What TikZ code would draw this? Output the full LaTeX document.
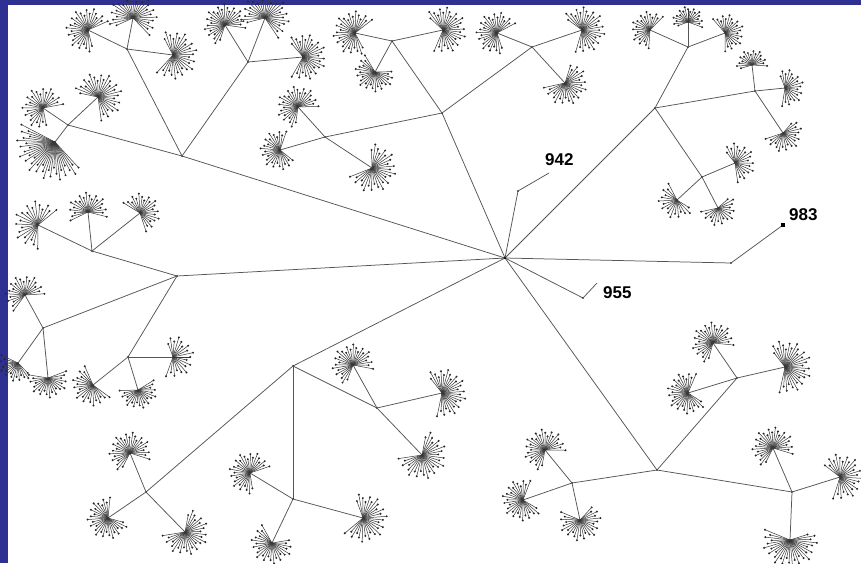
\documentclass[tikz,border=0pt]{standalone}
\usepackage{fontspec}
\setmainfont{Liberation Sans}
\usetikzlibrary{calc}
\definecolor{frameblue}{RGB}{46,49,146}
\definecolor{edgegray}{RGB}{85,85,85}
\definecolor{leafgray}{RGB}{55,55,55}
\tikzset{
  edge/.style={draw=edgegray, line width=0.75pt},
  leaf/.style={draw=leafgray, line width=0.5pt},
  leafdot/.style={fill=black!85},
  lbl/.style={font=\bfseries\fontsize{17}{17}\selectfont, inner sep=0pt, anchor=west},
}
% parent, name, position, number of leaves, spread (deg), radius
\newcommand\fanat[6]{%
  \coordinate (#2) at (#3);
  \draw[edge] (#1) -- (#2);
  \pgfmathanglebetweenpoints{\pgfpointanchor{#1}{center}}{\pgfpointanchor{#2}{center}}%
  \let\fanang\pgfmathresult
  \pgfmathsetmacro\fspread{#5+50}%
  \pgfmathtruncatemacro\fnum{#4+5}%
  \pgfmathsetmacro\fstep{\fspread/(\fnum-1)}%
  \pgfmathtruncatemacro\flast{\fnum-1}%
  \foreach \i in {0,...,\flast}{%
    \pgfmathsetmacro\fa{\fanang-\fspread/2+\i*\fstep}%
    \pgfmathsetmacro\fr{1.08*#6*(1-0.08*mod(\i*3,5))}%
    \draw[leaf] (#2) -- ++(\fa:\fr pt);
    \fill[leafdot] (#2) ++(\fa:\fr pt) circle (1.1pt);
  }%
}
% parent, name, position
\newcommand\hubat[3]{%
  \coordinate (#2) at (#3);
  \draw[edge] (#1) -- (#2);
  \fill[black] (#2) circle (0.9pt);
}
\begin{document}
\begin{tikzpicture}[x=1pt,y=-1pt]
\useasboundingbox (0,0) rectangle (861,563);
\fill[frameblue] (0,0) rectangle (861,563);
\fill[white] (8,5) rectangle (861,563);

\coordinate (C) at (505,258);

% ---- upper left main branch
\hubat{C}{A1}{182,156}
\hubat{A1}{a1}{127,49}
\fanat{a1}{a1f1}{88,30}{22}{210}{20}
\fanat{a1}{a1f2}{133,18}{22}{200}{22}
\fanat{a1}{a1f3}{173,55}{22}{200}{22}
\hubat{A1}{a2}{248,62}
\fanat{a2}{a2f1}{225,25}{22}{210}{19}
\fanat{a2}{a2f2}{265,18}{22}{200}{22}
\fanat{a2}{a2f3}{303,57}{22}{200}{21}

% ---- far upper left (child of A1)
\hubat{A1}{H}{68,125}
\fanat{H}{hf1}{43,108}{20}{220}{19}
\fanat{H}{hf2}{98,97}{22}{200}{22}
\fanat{H}{hf3}{55,142}{28}{110}{35}

% ---- upper middle
\hubat{C}{B}{442,113}
\hubat{B}{b1}{392,41}
\fanat{b1}{b1f1}{355,33}{22}{210}{20}
\fanat{b1}{b1f2}{443,30}{22}{200}{21}
\fanat{b1}{b1f3}{375,72}{20}{190}{18}
\hubat{B}{b2}{532,47}
\fanat{b2}{b2f1}{497,33}{22}{210}{19}
\fanat{b2}{b2f2}{582,30}{22}{200}{21}
\fanat{b2}{b2f3}{565,83}{20}{190}{20}
\hubat{B}{b3}{325,137}
\fanat{b3}{b3f1}{298,107}{22}{210}{19}
\fanat{b3}{b3f2}{280,150}{20}{200}{18}
\fanat{b3}{b3f3}{372,168}{22}{200}{22}

% ---- upper right
\hubat{C}{D}{655,108}
\hubat{D}{d1}{688,47}
\fanat{d1}{d1f1}{650,30}{16}{170}{17}
\fanat{d1}{d1f2}{688,22}{14}{170}{14}
\fanat{d1}{d1f3}{725,33}{16}{170}{17}
\hubat{D}{d2}{755,91}
\fanat{d2}{d2f1}{752,65}{12}{150}{14}
\fanat{d2}{d2f2}{785,88}{14}{160}{17}
\fanat{d2}{d2f3}{783,133}{14}{160}{17}
\hubat{D}{d3}{702,177}
\fanat{d3}{d3f1}{735,163}{14}{160}{18}
\fanat{d3}{d3f2}{677,200}{12}{160}{17}
\fanat{d3}{d3f3}{718,208}{12}{160}{16}

% ---- single leaves with labels
\hubat{C}{p942}{518,191}
\coordinate (q942) at (549,173);
\draw[edge] (p942) -- (q942);
\node[lbl] (l942) at (545,160) {942};
\hubat{C}{p983}{731,263}
\coordinate (q983) at (783,225);
\draw[edge] (p983) -- (q983);
\fill[black] ($(q983)+(-2.2,-2.2)$) rectangle ($(q983)+(2.2,2.2)$);
\node[lbl] (l983) at (789,215) {983};
\hubat{C}{p955}{583,298}
\coordinate (q955) at (597,283);
\draw[edge] (p955) -- (q955);
\node[lbl] (l955) at (603,293) {955};

% ---- lower right
\hubat{C}{E}{657,470}
\hubat{E}{e1}{737,378}
\fanat{e1}{e1f1}{713,343}{22}{210}{19}
\fanat{e1}{e1f2}{785,367}{24}{180}{24}
\fanat{e1}{e1f3}{688,393}{22}{210}{19}
\hubat{E}{e2}{572,483}
\fanat{e2}{e2f1}{545,450}{22}{210}{19}
\fanat{e2}{e2f2}{523,500}{22}{210}{19}
\fanat{e2}{e2f3}{580,520}{20}{200}{19}
\hubat{E}{e3}{792,492}
\fanat{e3}{e3f1}{773,448}{22}{210}{19}
\fanat{e3}{e3f2}{840,477}{20}{200}{21}
\fanat{e3}{e3f3}{790,540}{24}{170}{25}

% ---- lower middle
\hubat{C}{F}{293,366}
\hubat{F}{f1}{146,492}
\fanat{f1}{f1f1}{130,453}{22}{210}{19}
\fanat{f1}{f1f2}{108,518}{22}{210}{19}
\fanat{f1}{f1f3}{185,532}{22}{200}{21}
\hubat{F}{f2}{293,499}
\fanat{f2}{f2f1}{250,473}{22}{210}{19}
\fanat{f2}{f2f2}{272,543}{20}{200}{19}
\fanat{f2}{f2f3}{363,518}{22}{200}{22}
\hubat{F}{f3}{377,408}
\fanat{f3}{f3f1}{353,365}{22}{210}{19}
\fanat{f3}{f3f2}{442,393}{22}{180}{22}
\fanat{f3}{f3f3}{422,455}{22}{200}{22}

% ---- left
\hubat{C}{G}{177,276}
\hubat{G}{g1}{92,251}
\fanat{g1}{g1f1}{38,225}{16}{180}{22}
\fanat{g1}{g1f2}{88,212}{16}{170}{18}
\fanat{g1}{g1f3}{140,213}{16}{170}{18}
\hubat{G}{g2}{43,328}
\fanat{g2}{g2f1}{25,295}{16}{180}{18}
\fanat{g2}{g2f2}{18,363}{12}{110}{17}
\fanat{g2}{g2f3}{48,378}{16}{160}{18}
\hubat{G}{g3}{128,357}
\fanat{g3}{g3f1}{173,357}{14}{170}{19}
\fanat{g3}{g3f2}{93,385}{16}{160}{19}
\fanat{g3}{g3f3}{138,390}{16}{160}{17}

\fill[black] (C) circle (1.1pt);
\end{tikzpicture}
\end{document}
